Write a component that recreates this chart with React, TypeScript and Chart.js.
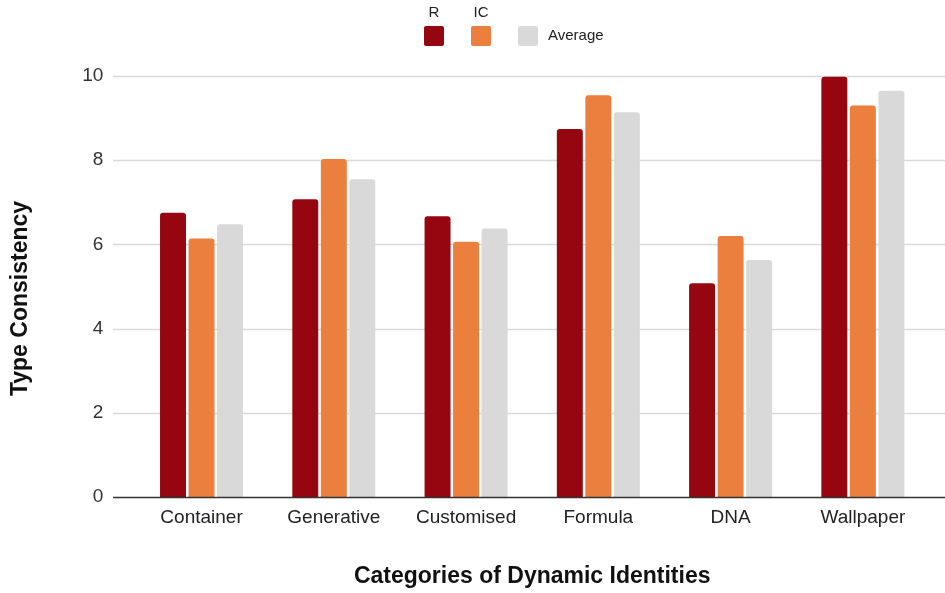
import React, { useEffect, useRef } from "react";
import { Chart, registerables } from "chart.js";

Chart.register(...registerables);

const categories = ["Container", "Generative", "Customised", "Formula", "DNA", "Wallpaper"];
const rValues = [6.75, 7.07, 6.67, 8.74, 5.08, 9.98];
const icValues = [6.14, 8.03, 6.06, 9.54, 6.2, 9.3];
const avgValues = [6.48, 7.55, 6.38, 9.14, 5.63, 9.65];
const seriesNames = ["R", "IC", "Average"];
const seriesColors = ["#960610", "#ea7f3e", "#d9d9d9"];
const yMin = 0;
const yMax = 10;
const yStep = 2;
const xTitle = "Categories of Dynamic Identities";
const yTitle = "Type Consistency";

const FONT = "'Liberation Sans', Arial, Helvetica, sans-serif";

const decorPlugin = {
  id: "decor",
  beforeDatasetsDraw(chart: any) {
    const { ctx } = chart;
    const y = chart.scales.y;
    ctx.save();
    y.ticks.forEach((t: any) => {
      if (t.value === 0) return;
      const py = Math.round(y.getPixelForValue(t.value)) + 0.5;
      ctx.strokeStyle = "#dadada";
      ctx.lineWidth = 1.5;
      ctx.beginPath();
      ctx.moveTo(113, py);
      ctx.lineTo(chart.width, py);
      ctx.stroke();
    });
    ctx.restore();
  },
  afterDatasetsDraw(chart: any) {
    const { ctx } = chart;
    const y = chart.scales.y;
    ctx.save();
    const py = Math.round(y.getPixelForValue(0)) + 0.5;
    ctx.strokeStyle = "#333333";
    ctx.lineWidth = 1.5;
    ctx.beginPath();
    ctx.moveTo(113, py);
    ctx.lineTo(chart.width, py);
    ctx.stroke();
    ctx.restore();
  },
  afterDraw(chart: any) {
    const { ctx } = chart;
    const y = chart.scales.y;
    ctx.save();
    // y title
    const cy = (y.top + y.bottom) / 2 + 12;
    ctx.translate(21, cy);
    ctx.rotate(-Math.PI / 2);
    ctx.font = `bold 23px ${FONT}`;
    ctx.fillStyle = "#111";
    ctx.textAlign = "center";
    ctx.textBaseline = "middle";
    ctx.fillText(yTitle, 0, 0);
    ctx.restore();

    // legend
    ctx.save();
    const ds = chart.data.datasets;
    const boxX = [424, 471, 518];
    const boxY = 26;
    const box = 20;
    ctx.font = `15px ${FONT}`;
    ctx.fillStyle = "#222";
    ds.forEach((d: any, i: number) => {
      const x = boxX[i];
      ctx.fillStyle = d.backgroundColor;
      ctx.beginPath();
      (ctx as any).roundRect(x, boxY, box, box, 2);
      ctx.fill();
      ctx.fillStyle = "#222";
      if (i < 2) {
        ctx.textAlign = "center";
        ctx.textBaseline = "middle";
        ctx.fillText(d.label, x + box / 2, 13);
      } else {
        ctx.textAlign = "left";
        ctx.textBaseline = "middle";
        ctx.fillText(d.label, x + box + 10, boxY + box / 2);
      }
    });
    ctx.restore();
  },
};

export default function App() {
  const ref = useRef<HTMLCanvasElement | null>(null);

  useEffect(() => {
    document.body.style.margin = "0";
    const canvas = ref.current;
    if (!canvas) return;
    const values = [rValues, icValues, avgValues];
    const chart = new Chart(canvas, {
      type: "bar",
      data: {
        labels: categories,
        datasets: seriesNames.map((name, i) => ({
          label: name,
          data: values[i],
          backgroundColor: seriesColors[i],
          borderRadius: 3,
          borderSkipped: "start",
          categoryPercentage: 0.647,
          barPercentage: 0.91,
        })),
      },
      options: {
        responsive: false,
        animation: false,
        devicePixelRatio: 1,
        layout: { padding: { top: 76, right: 16, left: 0, bottom: 0 } },
        plugins: {
          legend: { display: false },
          tooltip: { enabled: false },
        },
        scales: {
          x: {
            grid: { display: false, drawTicks: false },
            border: { display: false },
            ticks: {
              padding: 9,
              color: "#222",
              font: { family: FONT, size: 19 },
              maxRotation: 0,
            },
            title: {
              display: true,
              text: xTitle,
              color: "#111",
              font: { family: FONT, size: 23, weight: "bold" },
              padding: { top: 0, bottom: 3 },
            },
            afterFit(scale: any) {
              scale.height = 96;
            },
          },
          y: {
            min: yMin,
            max: yMax,
            grid: { display: false, drawTicks: false },
            border: { display: false },
            ticks: {
              stepSize: yStep,
              padding: 32,
              color: "#333",
              font: { family: FONT, size: 19 },
            },
            afterFit(scale: any) {
              scale.width = 135.4;
            },
          },
        },
      },
      plugins: [decorPlugin],
    });
    return () => chart.destroy();
  }, []);

  return (
    <div style={{ width: 945, height: 593, background: "#fff" }}>
      <canvas ref={ref} width={945} height={593} style={{ display: "block", width: 945, height: 593 }} />
    </div>
  );
}
